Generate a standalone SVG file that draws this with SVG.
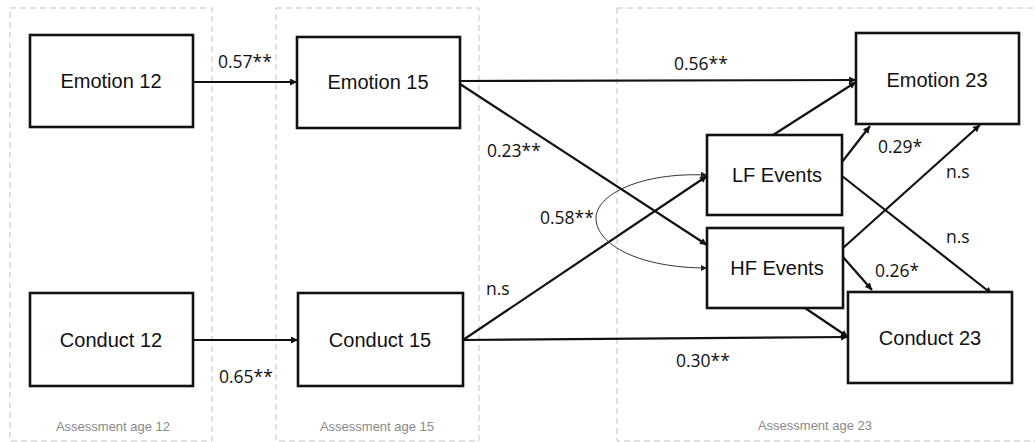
<svg xmlns="http://www.w3.org/2000/svg" width="1035" height="442" viewBox="0 0 1035 442">
<style>
.zone{fill:none;stroke:#c4c4c4;stroke-width:1;stroke-dasharray:6 4}
.zl{font-family:"Liberation Sans",Arial,sans-serif;font-size:13px;fill:#8a8a8a;text-anchor:middle}
.box{fill:#fff;stroke:#111;stroke-width:2.6}
.nt{font-family:"Liberation Sans",Arial,sans-serif;font-size:20px;fill:#111;text-anchor:middle}
.c{fill:none;stroke:#111;stroke-width:2.2;marker-end:url(#ah)}
.cv{fill:none;stroke:#333;stroke-width:1;marker-start:url(#sh);marker-end:url(#sh)}
.el{font-family:"Open Sans","DejaVu Sans",sans-serif;font-size:17.5px;fill:#111}
</style>
<defs>
<marker id="ah" viewBox="0 0 10 10" refX="10" refY="5" markerWidth="9" markerHeight="7" markerUnits="userSpaceOnUse" orient="auto"><path d="M0,0 L10,5 L0,10 z" fill="#111"/></marker>
<marker id="sh" viewBox="0 0 10 10" refX="10" refY="5" markerWidth="8" markerHeight="6" markerUnits="userSpaceOnUse" orient="auto-start-reverse"><path d="M0,0 L10,5 L0,10 z" fill="#222"/></marker>
</defs>
<rect width="1035" height="442" fill="#fff"/>
<g id="zones">
<rect class="zone" x="10" y="8" width="202" height="433"/>
<rect class="zone" x="276" y="8" width="203" height="433"/>
<rect class="zone" x="617" y="8" width="430" height="433"/>
<text class="zl" x="113" y="431">Assessment age 12</text>
<text class="zl" x="377" y="431">Assessment age 15</text>
<text class="zl" x="815" y="430">Assessment age 23</text>
</g>
<g id="connectors">
<line class="c" x1="193" y1="82" x2="297" y2="82"/>
<line class="c" x1="460" y1="81" x2="856" y2="80"/>
<line class="c" x1="460" y1="84" x2="707" y2="245"/>
<line class="c" x1="193" y1="340" x2="298" y2="340"/>
<line class="c" x1="463" y1="340" x2="707" y2="176"/>
<line class="c" x1="463" y1="340" x2="848" y2="337"/>
<line class="c" x1="773" y1="135" x2="856" y2="82"/>
<line class="c" x1="842" y1="162" x2="870" y2="126"/>
<line class="c" x1="842" y1="176" x2="992" y2="294"/>
<line class="c" x1="843" y1="248" x2="980" y2="125"/>
<line class="c" x1="843" y1="257" x2="872" y2="290"/>
<line class="c" x1="805" y1="308" x2="848" y2="337"/>
<path class="cv" d="M707,175 C640,172 596,195 596,218 C596,245 640,268 707,268"/>
<text class="el" x="218" y="68">0.57**</text>
<text class="el" x="674" y="70">0.56**</text>
<text class="el" x="487" y="157">0.23**</text>
<text class="el" x="540" y="224">0.58**</text>
<text class="el" x="486" y="295">n.s</text>
<text class="el" x="219" y="383">0.65**</text>
<text class="el" x="676" y="367">0.30**</text>
<text class="el" x="878" y="153">0.29*</text>
<text class="el" x="946" y="178">n.s</text>
<text class="el" x="946" y="243">n.s</text>
<text class="el" x="875" y="277">0.26*</text>
</g>
<g id="emotion12"><rect class="box" x="30" y="35" width="163" height="92"/><text class="nt" x="111" y="88">Emotion 12</text></g>
<g id="emotion15"><rect class="box" x="297" y="37" width="163" height="91"/><text class="nt" x="378" y="89">Emotion 15</text></g>
<g id="conduct12"><rect class="box" x="30" y="293" width="163" height="93"/><text class="nt" x="111" y="347">Conduct 12</text></g>
<g id="conduct15"><rect class="box" x="298" y="293" width="165" height="93"/><text class="nt" x="380" y="347">Conduct 15</text></g>
<g id="lfevents"><rect class="box" x="707" y="135" width="135" height="80"/><text class="nt" x="777" y="182">LF Events</text></g>
<g id="hfevents"><rect class="box" x="707" y="228" width="136" height="80"/><text class="nt" x="777" y="275">HF Events</text></g>
<g id="emotion23"><rect class="box" x="856" y="33" width="163" height="91"/><text class="nt" x="937" y="87">Emotion 23</text></g>
<g id="conduct23"><rect class="box" x="848" y="292" width="164" height="91"/><text class="nt" x="930" y="345">Conduct 23</text></g>
</svg>
